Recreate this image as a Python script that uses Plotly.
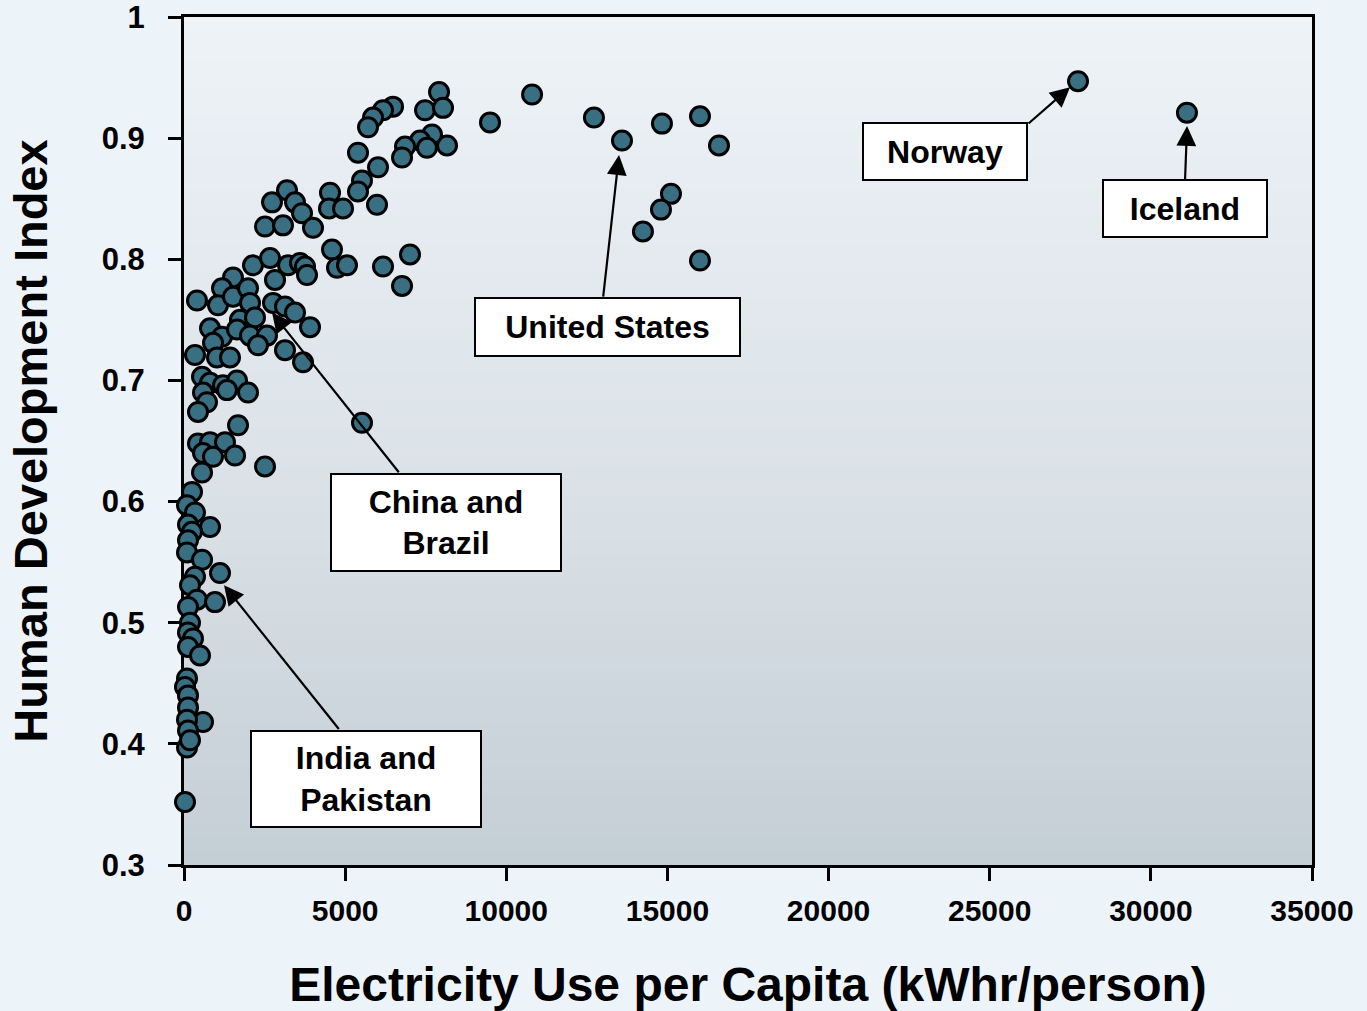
import plotly.graph_objects as go

# ---- data ----
electricity_kwh = [
    27740, 31120, 10800, 9495, 12720, 13590, 14830, 16010, 16600, 15110, 14800, 14240, 16010,
    7913, 7478, 8037, 6485, 6175, 5865, 5710, 8161, 7695, 7323, 7540, 6858, 6765, 5399, 6020,
    5523, 5399, 5989, 4530, 4499, 4934, 3196, 2731, 3444, 3662, 4003, 2513, 3072, 4592, 4748,
    5058, 7013, 6175, 6765, 2141, 2669, 3227, 3599, 3755, 3817, 2824, 1520, 1179, 403, 1055,
    1520, 1986, 2048, 2762, 3134, 3444, 3910, 1738, 2203, 807, 1179, 1645, 2048, 2575, 2296,
    900, 341, 1024, 1427, 3134, 3693, 559, 807, 1210, 1645, 1986, 1334, 590, 714, 434, 1676,
    5523, 434, 807, 1272, 1583, 590, 900, 2513, 559, 248, 93, 341, 807, 124, 248, 124, 93,
    559, 1117, 341, 186, 403, 962, 124, 186, 124, 279, 124, 496, 93, 31, 124, 124, 590, 93,
    124, 93, 186, 31,
]
hdi = [
    0.947, 0.921, 0.936, 0.913, 0.917, 0.898, 0.912, 0.918, 0.894, 0.854, 0.841, 0.823, 0.799,
    0.938, 0.923, 0.925, 0.926, 0.923, 0.917, 0.909, 0.894, 0.903, 0.898, 0.892, 0.893, 0.884,
    0.888, 0.876, 0.865, 0.856, 0.845, 0.855, 0.842, 0.842, 0.857, 0.847, 0.847, 0.838, 0.826,
    0.827, 0.828, 0.808, 0.793, 0.795, 0.804, 0.794, 0.778, 0.795, 0.801, 0.795, 0.797, 0.794,
    0.787, 0.783, 0.785, 0.776, 0.766, 0.762, 0.769, 0.776, 0.764, 0.764, 0.761, 0.756, 0.744,
    0.750, 0.752, 0.743, 0.736, 0.742, 0.737, 0.737, 0.729, 0.731, 0.721, 0.719, 0.719, 0.725,
    0.715, 0.703, 0.698, 0.696, 0.700, 0.690, 0.692, 0.690, 0.682, 0.674, 0.663, 0.665, 0.648,
    0.649, 0.649, 0.638, 0.640, 0.637, 0.629, 0.624, 0.608, 0.597, 0.591, 0.579, 0.581, 0.575,
    0.568, 0.558, 0.552, 0.541, 0.538, 0.531, 0.519, 0.517, 0.513, 0.500, 0.492, 0.487, 0.480,
    0.473, 0.454, 0.447, 0.440, 0.430, 0.418, 0.420, 0.411, 0.397, 0.403, 0.352,
]

x_ticks = [0, 5000, 10000, 15000, 20000, 25000, 30000, 35000]
x_tick_text = ["0", "5000", "10000", "15000", "20000", "25000", "30000", "35000"]
y_ticks = [0.3, 0.4, 0.5, 0.6, 0.7, 0.8, 0.9, 1.0]
y_tick_text = ["0.3", "0.4", "0.5", "0.6", "0.7", "0.8", "0.9", "1"]

label_texts = ["Norway", "Iceland", "United States", "China and<br>Brazil", "India and<br>Pakistan"]
label_x = [23614, 31060, 13126, 8130, 5647]
label_y = [0.889, 0.842, 0.744, 0.583, 0.371]
label_w = [160, 160, 261, 226, 226]
label_h = [53, 53, 54, 93, 92]

# arrow heads (pointed country) and tails
arrow_head_x = [27493, 31123, 13498, 2731, 1241]
arrow_head_y = [0.942, 0.910, 0.886, 0.756, 0.531]
arrow_tail_x = [26158, 31060, 13002, 6702, 4841]
arrow_tail_y = [0.911, 0.865, 0.768, 0.623, 0.411]

FONT = "Liberation Sans, Arial, sans-serif"

fig = go.Figure()

fig.add_trace(go.Scatter(
    x=electricity_kwh, y=hdi, mode="markers",
    marker=dict(size=19, color="#386f82", line=dict(color="black", width=3)),
    cliponaxis=False, hoverinfo="x+y", showlegend=False,
))

# gradient background of plot area
def lerp(c1, c2, t):
    return tuple(int(round(a + (b - a) * t)) for a, b in zip(c1, c2))

top_c = (237, 243, 247)
mid_c = (221, 228, 233)
bot_c = (196, 206, 213)
n = 60
shapes = []
for i in range(n):
    f0 = i / n
    f1 = (i + 1) / n
    fm = (f0 + f1) / 2
    if fm < 0.5:
        c = lerp(bot_c, mid_c, fm / 0.5)
    else:
        c = lerp(mid_c, top_c, (fm - 0.5) / 0.5)
    shapes.append(dict(type="rect", xref="paper", yref="paper", x0=0, x1=1, y0=f0, y1=f1 + 0.002,
                       fillcolor="rgb(%d,%d,%d)" % c, line=dict(width=0), layer="below"))

annotations = []
for hx, hy, tx, ty in zip(arrow_head_x, arrow_head_y, arrow_tail_x, arrow_tail_y):
    annotations.append(dict(x=hx, y=hy, ax=tx, ay=ty, xref="x", yref="y", axref="x", ayref="y",
                            text="", showarrow=True, arrowhead=2, arrowsize=1.8, arrowwidth=2.2,
                            arrowcolor="black", standoff=0))
for t, lx, ly, w, h in zip(label_texts, label_x, label_y, label_w, label_h):
    annotations.append(dict(x=lx, y=ly, xref="x", yref="y", text="<b>%s</b>" % t, showarrow=False,
                            font=dict(family=FONT, size=32, color="black"),
                            bgcolor="white", bordercolor="black", borderwidth=2, borderpad=1,
                            width=w, height=h, align="center", valign="middle"))

fig.update_layout(
    width=1367, height=1011,
    margin=dict(l=184, r=55, t=17, b=146, autoexpand=False),
    paper_bgcolor="#edf4f9", plot_bgcolor="rgba(0,0,0,0)",
    shapes=shapes, annotations=annotations,
    font=dict(family=FONT, color="black"),
)
fig.update_xaxes(
    range=[0, 35000], tickvals=x_ticks, ticktext=x_tick_text, ticks="outside", ticklen=13, tickwidth=3,
    tickcolor="black", ticklabelstandoff=4, ticklabeloverflow="allow",
    showline=True, linewidth=3, linecolor="black", mirror=True, showgrid=False, zeroline=False,
    layer="below traces",
    tickfont=dict(family=FONT, size=30, color="black", weight="bold"),
    title=dict(text="<b>Electricity Use per Capita (kWhr/person)</b>",
               font=dict(family=FONT, size=48, color="black"), standoff=46),
)
fig.update_yaxes(
    range=[0.3, 1.0], tickvals=y_ticks, ticktext=y_tick_text, ticks="outside", ticklen=13, tickwidth=3,
    tickcolor="black", ticklabelstandoff=17, ticklabeloverflow="allow",
    showline=True, linewidth=3, linecolor="black", mirror=True, showgrid=False,
    zeroline=False, layer="below traces",
    tickfont=dict(family=FONT, size=31, color="black", weight="bold"),
    title=dict(text="<b>Human Development Index</b>",
               font=dict(family=FONT, size=47, color="black"), standoff=40),
)

fig.write_html("out.html", config={"displayModeBar": False},
               post_script="document.body.style.margin='0';document.body.style.background='#edf4f9';")
